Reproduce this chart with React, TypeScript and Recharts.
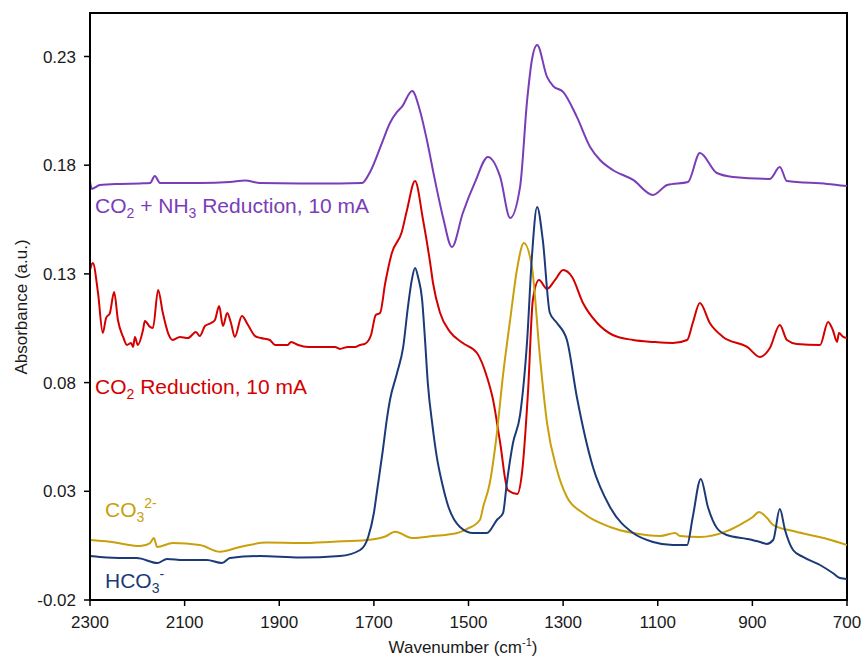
import { Line, LineChart, XAxis, YAxis, ReferenceArea } from "recharts"

// CO2 + NH3 reduction, 10 mA
const purpleWn = [2300, 2296, 2279, 2237, 2194, 2173, 2163, 2152, 2068, 2004, 1972, 1941, 1856, 1772, 1725, 1708, 1683, 1666, 1651, 1641, 1619, 1603, 1588, 1571, 1554, 1535, 1512, 1486, 1459, 1433, 1412, 1391, 1376, 1366, 1355, 1334, 1321, 1300, 1271, 1243, 1222, 1195, 1152, 1110, 1080, 1036, 1011, 975, 941, 863, 842, 827, 742, 700]
const purpleAbs = [0.1723, 0.1691, 0.1709, 0.1714, 0.1716, 0.1718, 0.175, 0.1718, 0.1718, 0.1723, 0.173, 0.1718, 0.1716, 0.1716, 0.1718, 0.1769, 0.1902, 0.1994, 0.2045, 0.2068, 0.2141, 0.2054, 0.1916, 0.1732, 0.1562, 0.1424, 0.158, 0.1723, 0.1838, 0.1746, 0.1557, 0.17, 0.21, 0.2284, 0.2353, 0.2206, 0.2164, 0.2137, 0.2022, 0.1884, 0.1824, 0.1778, 0.1732, 0.1663, 0.1709, 0.1723, 0.1856, 0.1764, 0.1746, 0.1737, 0.1792, 0.1727, 0.1714, 0.1704]

// CO2 reduction, 10 mA
const redWn = [2300, 2294, 2283, 2273, 2266, 2258, 2249, 2241, 2230, 2222, 2213, 2209, 2205, 2199, 2188, 2184, 2173, 2167, 2156, 2146, 2135, 2125, 2110, 2093, 2076, 2068, 2057, 2044, 2036, 2027, 2019, 2010, 2002, 1994, 1979, 1966, 1951, 1939, 1920, 1909, 1882, 1875, 1860, 1839, 1812, 1782, 1772, 1755, 1740, 1729, 1719, 1706, 1696, 1687, 1676, 1662, 1641, 1630, 1613, 1596, 1581, 1575, 1560, 1539, 1512, 1482, 1461, 1448, 1433, 1417, 1397, 1387, 1374, 1364, 1351, 1334, 1317, 1300, 1281, 1258, 1228, 1195, 1152, 1110, 1068, 1038, 1026, 1011, 990, 962, 911, 884, 863, 842, 827, 806, 757, 740, 730, 721, 717, 708, 700]
const redAbs = [0.1318, 0.135, 0.1212, 0.1028, 0.1097, 0.112, 0.1217, 0.1088, 0.101, 0.0973, 0.0982, 0.0964, 0.101, 0.0973, 0.1042, 0.1083, 0.1056, 0.1051, 0.1226, 0.112, 0.1028, 0.0996, 0.101, 0.1005, 0.1033, 0.1014, 0.106, 0.1074, 0.1088, 0.1152, 0.106, 0.112, 0.1074, 0.101, 0.1106, 0.1065, 0.1014, 0.1005, 0.0996, 0.0973, 0.0973, 0.0987, 0.0973, 0.0964, 0.0964, 0.0964, 0.0955, 0.0964, 0.0964, 0.0973, 0.0978, 0.1019, 0.1111, 0.112, 0.1258, 0.1396, 0.1493, 0.1594, 0.1727, 0.1548, 0.135, 0.1258, 0.112, 0.1033, 0.0982, 0.0936, 0.0826, 0.072, 0.0522, 0.0306, 0.0288, 0.0384, 0.0766, 0.118, 0.1272, 0.1231, 0.1272, 0.1318, 0.1286, 0.1166, 0.1074, 0.1019, 0.0996, 0.0987, 0.0982, 0.0996, 0.1074, 0.1166, 0.1074, 0.101, 0.0964, 0.0918, 0.0959, 0.1065, 0.0996, 0.0978, 0.0973, 0.1079, 0.1042, 0.0987, 0.1028, 0.101, 0.1005]

// carbonate
const goldWn = [2300, 2258, 2194, 2173, 2165, 2158, 2125, 2068, 2025, 1983, 1926, 1856, 1786, 1715, 1676, 1655, 1619, 1575, 1524, 1503, 1476, 1469, 1455, 1440, 1427, 1412, 1397, 1383, 1366, 1349, 1334, 1313, 1292, 1258, 1201, 1152, 1095, 1063, 1053, 1011, 954, 920, 899, 886, 869, 856, 814, 778, 742, 700]
const goldAbs = [0.0076, 0.0068, 0.0048, 0.0062, 0.0085, 0.0044, 0.0062, 0.0053, 0.0022, 0.0044, 0.0064, 0.0062, 0.0068, 0.0076, 0.0092, 0.0114, 0.0085, 0.0094, 0.0108, 0.0127, 0.0168, 0.0228, 0.0338, 0.0568, 0.0835, 0.1088, 0.1327, 0.1442, 0.1332, 0.0918, 0.0614, 0.0398, 0.0274, 0.02, 0.0136, 0.0108, 0.0094, 0.0108, 0.0094, 0.009, 0.0117, 0.0154, 0.0182, 0.0205, 0.0177, 0.0145, 0.0117, 0.0099, 0.0081, 0.0053]

// bicarbonate
const blueWn = [2300, 2279, 2230, 2201, 2158, 2137, 2103, 2053, 2021, 2004, 1941, 1856, 1772, 1729, 1712, 1700, 1693, 1681, 1672, 1666, 1651, 1638, 1628, 1620, 1613, 1606, 1598, 1592, 1586, 1576, 1567, 1555, 1545, 1518, 1490, 1461, 1440, 1427, 1419, 1406, 1391, 1376, 1366, 1355, 1343, 1328, 1313, 1292, 1271, 1237, 1201, 1152, 1110, 1068, 1038, 1026, 1009, 994, 975, 954, 911, 884, 870, 856, 842, 831, 814, 793, 757, 730, 715, 700]
const blueAbs = [0.0002, -0.0002, -0.0007, -0.0007, -0.003, -0.0011, -0.0016, -0.0016, -0.003, -0.0007, 0.0002, -0.0005, 0.0002, 0.003, 0.009, 0.02, 0.0306, 0.049, 0.064, 0.072, 0.0844, 0.0964, 0.1148, 0.127, 0.1327, 0.128, 0.118, 0.1, 0.0798, 0.06, 0.0458, 0.033, 0.0246, 0.0136, 0.0108, 0.0108, 0.0168, 0.02, 0.0338, 0.0522, 0.0651, 0.0996, 0.1378, 0.1608, 0.1456, 0.112, 0.1074, 0.0996, 0.0734, 0.0412, 0.0228, 0.0108, 0.0067, 0.0053, 0.0053, 0.0182, 0.0357, 0.0228, 0.0131, 0.0099, 0.0081, 0.0067, 0.0058, 0.0076, 0.0219, 0.0122, 0.003, -0.0002, -0.0039, -0.0076, -0.0099, -0.0103]

const xTicks = [2300, 2100, 1900, 1700, 1500, 1300, 1100, 900, 700]
const yTicks = [-0.02, 0.03, 0.08, 0.13, 0.18, 0.23]

const PURPLE = "#7A3DB8"
const RED = "#D40000"
const GOLD = "#C9A00C"
const BLUE = "#1C3A78"
const FONT = "Arial, 'Liberation Sans', sans-serif"

const toPoints = (wn: number[], abs: number[]) => wn.map((x, i) => ({ x, y: abs[i] }))

const series = [
  { name: "CO2 + NH3", color: PURPLE, data: toPoints(purpleWn, purpleAbs) },
  { name: "CO2", color: RED, data: toPoints(redWn, redAbs) },
  { name: "CO3", color: GOLD, data: toPoints(goldWn, goldAbs) },
  { name: "HCO3", color: BLUE, data: toPoints(blueWn, blueAbs) },
]

export default function App() {
  const tick = { fill: "#1a1a1a", fontSize: 17, fontFamily: FONT }
  return (
    <div style={{ position: "absolute", left: 0, top: 0, width: 867, height: 659, background: "#fff" }}>
      <LineChart width={867} height={659} margin={{ top: 13, right: 20, bottom: 29, left: 30 }}>
        <XAxis
          dataKey="x"
          type="number"
          domain={[700, 2300]}
          reversed
          ticks={xTicks}
          allowDataOverflow
          tick={tick}
          tickSize={6}
          tickMargin={10}
          height={30}
          axisLine={{ stroke: "#000", strokeWidth: 2 }}
          tickLine={{ stroke: "#000", strokeWidth: 1.5 }}
        />
        <YAxis
          type="number"
          domain={[-0.02, 0.25]}
          ticks={yTicks}
          allowDataOverflow
          tickFormatter={(v: number) => v.toFixed(2)}
          tick={tick}
          tickSize={6}
          tickMargin={8}
          width={60}
          axisLine={{ stroke: "#000", strokeWidth: 2 }}
          tickLine={{ stroke: "#000", strokeWidth: 1.5 }}
        />
        <ReferenceArea x1={700} x2={2300} y1={-0.02} y2={0.25} fill="none" stroke="#000" strokeWidth={2} />
        {series.map((s) => (
          <Line
            key={s.name}
            data={s.data}
            dataKey="y"
            type="monotone"
            stroke={s.color}
            strokeWidth={2}
            dot={false}
            isAnimationActive={false}
          />
        ))}
      </LineChart>
      <svg
        width={867}
        height={659}
        style={{ position: "absolute", left: 0, top: 0, pointerEvents: "none" }}
        fontFamily={FONT}
      >
        <text x={95} y={213} fill={PURPLE} fontSize={21}>
          CO<tspan fontSize={14} dy={5}>2</tspan>
          <tspan dy={-5}> + NH</tspan>
          <tspan fontSize={14} dy={5}>3</tspan>
          <tspan dy={-5}> Reduction, 10 mA</tspan>
        </text>
        <text x={95} y={394} fill={RED} fontSize={21}>
          CO<tspan fontSize={14} dy={5}>2</tspan>
          <tspan dy={-5}> Reduction, 10 mA</tspan>
        </text>
        <text x={105} y={517} fill={GOLD} fontSize={21}>
          CO<tspan fontSize={14} dy={5}>3</tspan>
          <tspan fontSize={14} dy={-14}>2-</tspan>
        </text>
        <text x={105} y={588} fill={BLUE} fontSize={21}>
          HCO<tspan fontSize={14} dy={5}>3</tspan>
          <tspan fontSize={14} dy={-14}>-</tspan>
        </text>
        <text transform="translate(27,307) rotate(-90)" textAnchor="middle" fill="#1a1a1a" fontSize={17}>
          Absorbance (a.u.)
        </text>
        <text x={463} y={653} textAnchor="middle" fill="#1a1a1a" fontSize={17}>
          Wavenumber (cm<tspan fontSize={11} dy={-7}>-1</tspan>
          <tspan dy={7}>)</tspan>
        </text>
      </svg>
    </div>
  )
}
